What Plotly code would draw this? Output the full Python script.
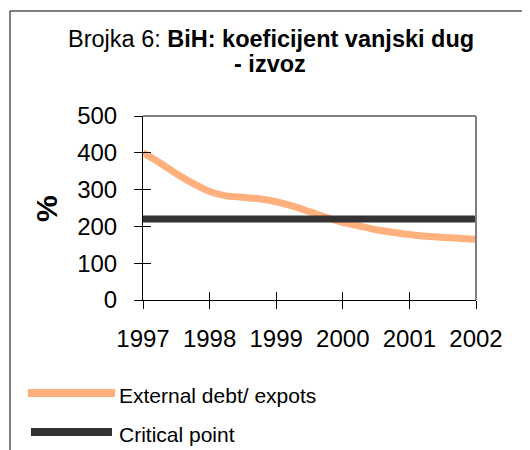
import plotly.graph_objects as go

# data
years = [1997.0, 1997.25, 1997.5, 1997.75, 1998.0, 1998.25, 1998.5, 1998.75,
         1999.0, 1999.25, 1999.5, 1999.75, 2000.0, 2000.25, 2000.5, 2000.75,
         2001.0, 2001.25, 2001.5, 2001.75, 2002.0]
debt_to_exports = [400, 373, 343, 317, 295, 283, 279, 275,
                   267, 255, 240, 225, 211, 201, 191, 184,
                   178, 173, 170, 168, 165]
critical_years = [1997, 2002]
critical_value = [220, 220]
tick_years = [1997, 1998, 1999, 2000, 2001, 2002]

debt_name = "External debt/ expots"
critical_name = "Critical point"
orange = "#FFB07C"
dark = "#333333"
font = "Arial, Liberation Sans, sans-serif"

# the page body adds an 8px margin, so the figure is laid out in page pixels minus 8
OFF = 8
W, H = 530 - OFF, 450 - OFF
L, R, T, B = 143 - OFF, 530 - 476, 116 - OFF, 450 - 300
pw, ph = W - L - R, H - T - B


def px(x):
    return (x - OFF - L) / pw


def py(y):
    return (H - B - (y - OFF)) / ph


fig = go.Figure()
fig.add_trace(go.Scatter(x=years, y=debt_to_exports, mode="lines", name=debt_name,
                         line=dict(color=orange, width=7, shape="spline", smoothing=0.6),
                         showlegend=False))
# critical line sits on the overlay axes, which also draw the inner half of the ticks
fig.add_trace(go.Scatter(x=critical_years, y=critical_value, mode="lines", name=critical_name,
                         line=dict(color=dark, width=7), xaxis="x2", yaxis="y2",
                         showlegend=False))

axis_common = dict(showgrid=False, zeroline=False, ticklen=8, tickcolor="black", tickwidth=1)
fig.update_layout(
    width=W, height=H,
    margin=dict(l=L, r=R, t=T, b=B, autoexpand=False),
    paper_bgcolor="white", plot_bgcolor="white",
    font=dict(family=font, color="black"),
    showlegend=False,
    xaxis=dict(range=[1997, 2002], tickvals=tick_years, ticks="outside",
               showline=True, linecolor="black", linewidth=1,
               tickfont=dict(size=24), ticklabelstandoff=9, **axis_common),
    yaxis=dict(range=[0, 500], dtick=100, ticks="outside",
               showline=True, linecolor="black", linewidth=1,
               tickfont=dict(size=24), ticklabelstandoff=12, **axis_common),
    xaxis2=dict(range=[1997, 2002], tickvals=tick_years, ticks="inside", overlaying="x",
                showticklabels=False, showline=False, **axis_common),
    yaxis2=dict(range=[0, 500], dtick=100, ticks="inside", overlaying="y",
                showticklabels=False, showline=False, **axis_common),
)

shapes = [
    # outer chart frame
    dict(type="rect", xref="paper", yref="paper", x0=px(10), x1=px(560), y0=py(470), y1=py(11),
         line=dict(color="black", width=1), layer="below"),
    # gray plot area border (top and right)
    dict(type="line", xref="paper", yref="paper", x0=0, x1=1, y0=1, y1=1,
         line=dict(color="#808080", width=2)),
    dict(type="line", xref="paper", yref="paper", x0=1, x1=1, y0=0, y1=1,
         line=dict(color="#808080", width=2)),
    # legend samples
    dict(type="line", xref="paper", yref="paper", x0=px(28), x1=px(115), y0=py(393), y1=py(393),
         line=dict(color=orange, width=8)),
    dict(type="line", xref="paper", yref="paper", x0=px(31), x1=px(112), y0=py(432), y1=py(432),
         line=dict(color=dark, width=8)),
]
fig.update_layout(shapes=shapes)

annotations = [
    dict(text="Brojka 6: <b>BiH: koeficijent vanjski dug</b>", x=px(271), y=py(39),
         font=dict(size=23.5)),
    dict(text="<b>- izvoz</b>", x=px(270), y=py(64), font=dict(size=23.5)),
    dict(text="<b>%</b>", x=px(46), y=py(209), textangle=-90, font=dict(size=30)),
    dict(text=debt_name, x=px(117), y=py(395), xanchor="left", font=dict(size=21)),
    dict(text=critical_name, x=px(117), y=py(434), xanchor="left", font=dict(size=21)),
]
for a in annotations:
    a.setdefault("xanchor", "center")
    fig.add_annotation(xref="paper", yref="paper", yanchor="middle", showarrow=False, **a)

fig.write_html("out.html")
